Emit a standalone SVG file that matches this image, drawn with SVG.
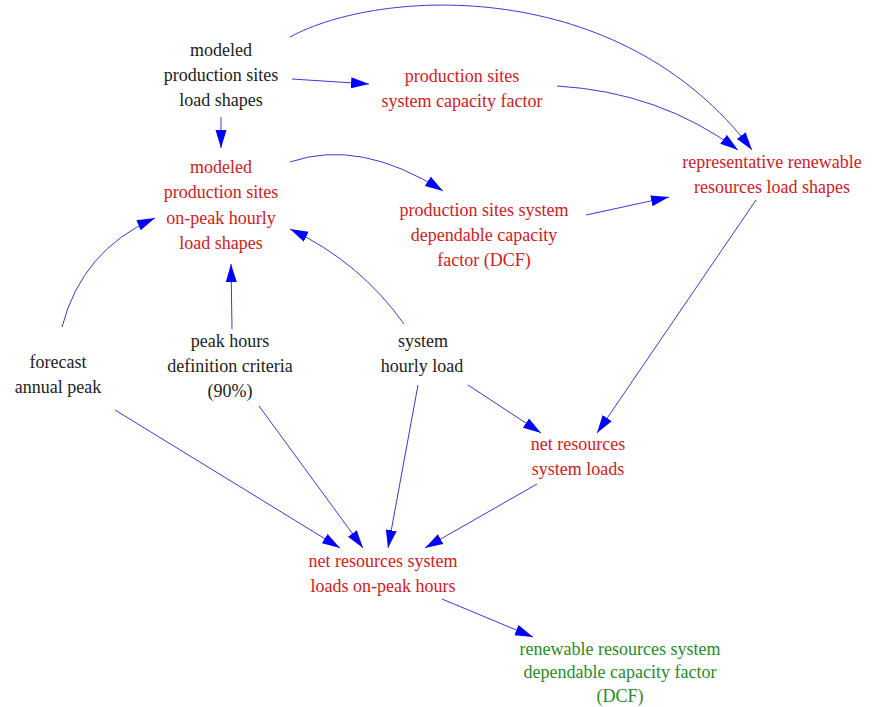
<svg xmlns="http://www.w3.org/2000/svg" width="872" height="707" viewBox="0 0 872 707">
<defs>
<marker id="ah" markerUnits="userSpaceOnUse" markerWidth="18" markerHeight="12" refX="18" refY="6" orient="auto">
<path d="M0,0.5 L18,6 L0,11.5 z" fill="#0000ff"/>
</marker>
<style>
.k{fill:#222222}
.r{fill:#cc2222}
.g{fill:#2a8a2a}
.c path{fill:none;stroke:#3a3ad0;stroke-width:1;marker-end:url(#ah)}
</style>
</defs>
<rect width="872" height="707" fill="#ffffff"/>
<g font-family="'Times New Roman', Times, 'Liberation Serif', 'Noto Serif', 'DejaVu Serif', serif" font-size="18" text-anchor="middle">
<g id="n1"><text class="k" x="221" y="56">modeled</text><text class="k" x="221" y="81">production sites</text><text class="k" x="221" y="106">load shapes</text></g>
<g id="n2"><text class="r" x="462" y="82">production sites</text><text class="r" x="462" y="107">system capacity factor</text></g>
<g id="n3"><text class="r" x="221" y="173">modeled</text><text class="r" x="221" y="198">production sites</text><text class="r" x="221" y="224">on-peak hourly</text><text class="r" x="221" y="249">load shapes</text></g>
<g id="n4"><text class="r" x="484" y="216">production sites system</text><text class="r" x="484" y="241">dependable capacity</text><text class="r" x="484" y="266">factor (DCF)</text></g>
<g id="n5"><text class="r" x="772" y="168">representative renewable</text><text class="r" x="772" y="193">resources load shapes</text></g>
<g id="n6"><text class="k" x="58" y="368">forecast</text><text class="k" x="58" y="393">annual peak</text></g>
<g id="n7"><text class="k" x="230" y="347">peak hours</text><text class="k" x="230" y="372">definition criteria</text><text class="k" x="230" y="397">(90%)</text></g>
<g id="n8"><text class="k" x="423" y="347">system</text><text class="k" x="422" y="372">hourly load</text></g>
<g id="n9"><text class="r" x="578" y="450">net resources</text><text class="r" x="578" y="475">system loads</text></g>
<g id="n10"><text class="r" x="383" y="567">net resources system</text><text class="r" x="383" y="592">loads on-peak hours</text></g>
<g id="n11"><text class="g" x="620" y="655">renewable resources system</text><text class="g" x="620" y="678">dependable capacity factor</text><text class="g" x="620" y="702">(DCF)</text></g>
</g>
<g id="connectors" class="c">
<path d="M290,37 C380,-12 620,-25 752,150"/>
<path d="M292,79 L369,84"/>
<path d="M557,86 Q660,92 738,150"/>
<path d="M221,117 L221,148"/>
<path d="M290,162 Q360,138 443,191"/>
<path d="M586,215 L669,197"/>
<path d="M756,200 L597,433"/>
<path d="M62,327 Q82,250 155,218"/>
<path d="M232,329 L231,264"/>
<path d="M404,324 Q360,262 290,229"/>
<path d="M115,410 L340,548"/>
<path d="M259,406 L363,548"/>
<path d="M418,385 L388,548"/>
<path d="M468,385 L541,433"/>
<path d="M537,484 L425,548"/>
<path d="M442,599 L533,637"/>
</g>
</svg>
